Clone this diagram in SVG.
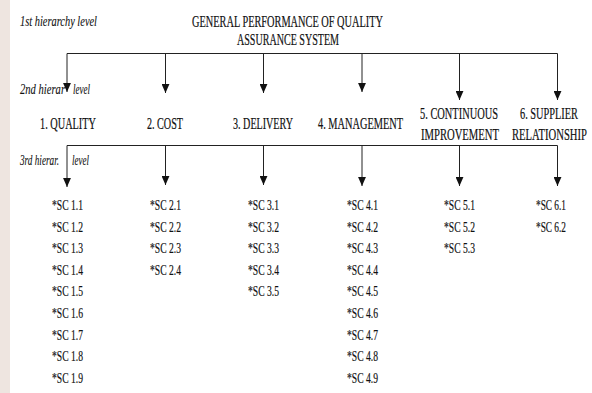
<svg xmlns="http://www.w3.org/2000/svg" width="592" height="393" viewBox="0 0 592 393">
<defs>
<style>
.t{font-family:"Liberation Serif","Times New Roman",serif;fill:#111;stroke:#111;stroke-width:0.2;}
.h{font-size:16px;}
.lv{font-size:14px;font-style:italic;stroke-width:0.1;}
.sc{font-size:15px;}
.ln{stroke:#222;stroke-width:1;fill:none;}
</style>
<marker id="ah" markerUnits="userSpaceOnUse" markerWidth="9" markerHeight="8" refX="8" refY="3.5" orient="auto" viewBox="0 0 8 7">
<path d="M0,0 L8,3.5 L0,7 Z" fill="#111"/>
</marker>
</defs>
<rect x="0" y="0" width="592" height="393" fill="#ffffff"/>
<rect x="0" y="0" width="10" height="393" fill="#eee5e0"/>

<g id="levels">
<text class="t lv" x="20" y="26" textLength="77" lengthAdjust="spacingAndGlyphs">1st hierarchy level</text>
<text class="t lv" y="94"><tspan x="20" textLength="45" lengthAdjust="spacingAndGlyphs">2nd hierar</tspan><tspan x="73" textLength="17" lengthAdjust="spacingAndGlyphs">level</tspan></text>
<text class="t lv" y="165"><tspan x="20" textLength="39" lengthAdjust="spacingAndGlyphs">3rd hierar.</tspan><tspan x="72" textLength="17" lengthAdjust="spacingAndGlyphs">level</tspan></text>
</g>

<g id="root">
<text class="t h" x="192" y="27" textLength="191" lengthAdjust="spacingAndGlyphs">GENERAL PERFORMANCE OF QUALITY</text>
<text class="t h" x="237" y="45" textLength="102" lengthAdjust="spacingAndGlyphs">ASSURANCE SYSTEM</text>
</g>

<g id="n1"><text class="t h" x="40" y="129" textLength="56" lengthAdjust="spacingAndGlyphs">1. QUALITY</text></g>
<g id="n2"><text class="t h" x="147" y="129" textLength="36" lengthAdjust="spacingAndGlyphs">2. COST</text></g>
<g id="n3"><text class="t h" x="233" y="129" textLength="60" lengthAdjust="spacingAndGlyphs">3. DELIVERY</text></g>
<g id="n4"><text class="t h" x="318" y="129" textLength="85" lengthAdjust="spacingAndGlyphs">4. MANAGEMENT</text></g>
<g id="n5"><text class="t h" x="420" y="119" textLength="78" lengthAdjust="spacingAndGlyphs">5. CONTINUOUS</text><text class="t h" x="421" y="140" textLength="78" lengthAdjust="spacingAndGlyphs">IMPROVEMENT</text></g>
<g id="n6"><text class="t h" x="520" y="119" textLength="58" lengthAdjust="spacingAndGlyphs">6. SUPPLIER</text><text class="t h" x="512" y="140" textLength="75" lengthAdjust="spacingAndGlyphs">RELATIONSHIP</text></g>

<g id="sc1">
<text class="t sc" x="52" y="210" textLength="31" lengthAdjust="spacingAndGlyphs">*SC 1.1</text>
<text class="t sc" x="52" y="231.6" textLength="31" lengthAdjust="spacingAndGlyphs">*SC 1.2</text>
<text class="t sc" x="52" y="253.2" textLength="31" lengthAdjust="spacingAndGlyphs">*SC 1.3</text>
<text class="t sc" x="52" y="274.8" textLength="31" lengthAdjust="spacingAndGlyphs">*SC 1.4</text>
<text class="t sc" x="52" y="296.4" textLength="31" lengthAdjust="spacingAndGlyphs">*SC 1.5</text>
<text class="t sc" x="52" y="318" textLength="31" lengthAdjust="spacingAndGlyphs">*SC 1.6</text>
<text class="t sc" x="52" y="339.6" textLength="31" lengthAdjust="spacingAndGlyphs">*SC 1.7</text>
<text class="t sc" x="52" y="361.2" textLength="31" lengthAdjust="spacingAndGlyphs">*SC 1.8</text>
<text class="t sc" x="52" y="382.8" textLength="31" lengthAdjust="spacingAndGlyphs">*SC 1.9</text>
</g>
<g id="sc2">
<text class="t sc" x="150" y="210" textLength="31" lengthAdjust="spacingAndGlyphs">*SC 2.1</text>
<text class="t sc" x="150" y="231.6" textLength="31" lengthAdjust="spacingAndGlyphs">*SC 2.2</text>
<text class="t sc" x="150" y="253.2" textLength="31" lengthAdjust="spacingAndGlyphs">*SC 2.3</text>
<text class="t sc" x="150" y="274.8" textLength="31" lengthAdjust="spacingAndGlyphs">*SC 2.4</text>
</g>
<g id="sc3">
<text class="t sc" x="248" y="210" textLength="31" lengthAdjust="spacingAndGlyphs">*SC 3.1</text>
<text class="t sc" x="248" y="231.6" textLength="31" lengthAdjust="spacingAndGlyphs">*SC 3.2</text>
<text class="t sc" x="248" y="253.2" textLength="31" lengthAdjust="spacingAndGlyphs">*SC 3.3</text>
<text class="t sc" x="248" y="274.8" textLength="31" lengthAdjust="spacingAndGlyphs">*SC 3.4</text>
<text class="t sc" x="248" y="296.4" textLength="31" lengthAdjust="spacingAndGlyphs">*SC 3.5</text>
</g>
<g id="sc4">
<text class="t sc" x="347" y="210" textLength="31" lengthAdjust="spacingAndGlyphs">*SC 4.1</text>
<text class="t sc" x="347" y="231.6" textLength="31" lengthAdjust="spacingAndGlyphs">*SC 4.2</text>
<text class="t sc" x="347" y="253.2" textLength="31" lengthAdjust="spacingAndGlyphs">*SC 4.3</text>
<text class="t sc" x="347" y="274.8" textLength="31" lengthAdjust="spacingAndGlyphs">*SC 4.4</text>
<text class="t sc" x="347" y="296.4" textLength="31" lengthAdjust="spacingAndGlyphs">*SC 4.5</text>
<text class="t sc" x="347" y="318" textLength="31" lengthAdjust="spacingAndGlyphs">*SC 4.6</text>
<text class="t sc" x="347" y="339.6" textLength="31" lengthAdjust="spacingAndGlyphs">*SC 4.7</text>
<text class="t sc" x="347" y="361.2" textLength="31" lengthAdjust="spacingAndGlyphs">*SC 4.8</text>
<text class="t sc" x="347" y="382.8" textLength="31" lengthAdjust="spacingAndGlyphs">*SC 4.9</text>
</g>
<g id="sc5">
<text class="t sc" x="444" y="210" textLength="31" lengthAdjust="spacingAndGlyphs">*SC 5.1</text>
<text class="t sc" x="444" y="231.6" textLength="31" lengthAdjust="spacingAndGlyphs">*SC 5.2</text>
<text class="t sc" x="444" y="253.2" textLength="31" lengthAdjust="spacingAndGlyphs">*SC 5.3</text>
</g>
<g id="sc6">
<text class="t sc" x="536" y="210" textLength="30" lengthAdjust="spacingAndGlyphs">*SC 6.1</text>
<text class="t sc" x="536" y="231.6" textLength="30" lengthAdjust="spacingAndGlyphs">*SC 6.2</text>
</g>

<g id="connectors">
<path class="ln" d="M67,53.5 H557.5"/>
<path class="ln" d="M67,53.5 V92" marker-end="url(#ah)"/>
<path class="ln" d="M165.5,53.5 V93" marker-end="url(#ah)"/>
<path class="ln" d="M263.5,53.5 V93" marker-end="url(#ah)"/>
<path class="ln" d="M362,53.5 V92" marker-end="url(#ah)"/>
<path class="ln" d="M459.5,53.5 V100" marker-end="url(#ah)"/>
<path class="ln" d="M557.5,53.5 V100" marker-end="url(#ah)"/>
<path class="ln" d="M67,145.5 H557.5"/>
<path class="ln" d="M67,145.5 V187" marker-end="url(#ah)"/>
<path class="ln" d="M165.5,145.5 V185" marker-end="url(#ah)"/>
<path class="ln" d="M263.5,145.5 V185" marker-end="url(#ah)"/>
<path class="ln" d="M362,145.5 V186" marker-end="url(#ah)"/>
<path class="ln" d="M459.5,145.5 V186" marker-end="url(#ah)"/>
<path class="ln" d="M557.5,145.5 V186" marker-end="url(#ah)"/>
</g>
</svg>
